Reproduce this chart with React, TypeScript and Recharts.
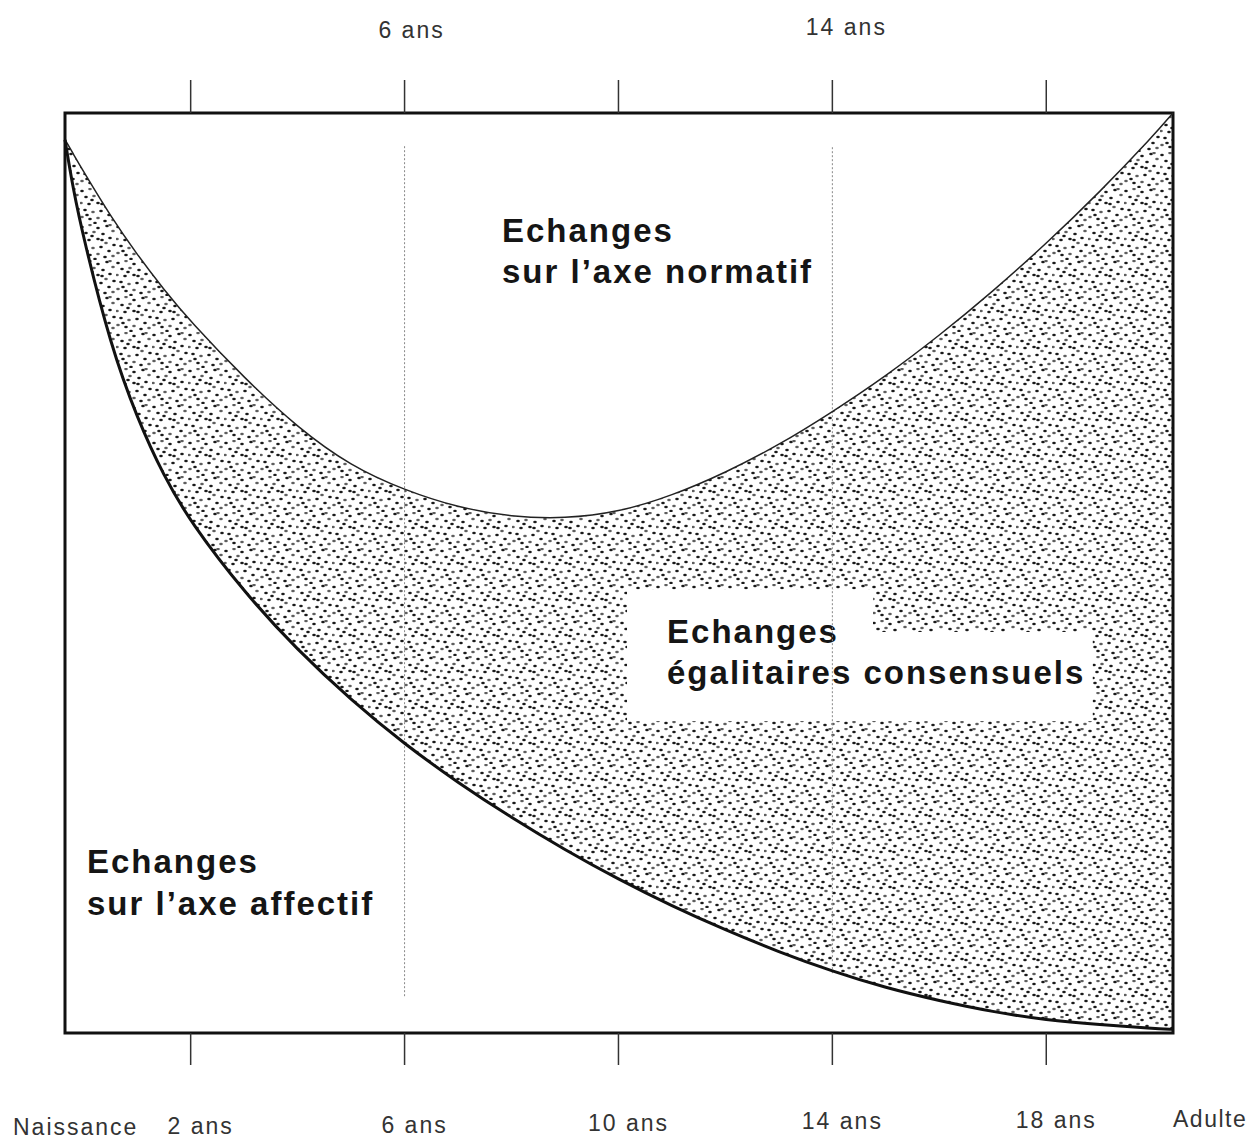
import React from 'react';
import { ComposedChart, Area, Line, XAxis, YAxis, ReferenceArea, ReferenceLine } from 'recharts';

// ages (années) de la naissance à l'âge adulte
const ages = [-0.35, -0.2, 0, 0.5, 1, 1.5, 2, 3, 4, 5, 6, 7, 8, 9, 10, 11, 12, 13, 14, 15, 16, 17, 18, 19, 20, 20.37];
// limite haute : axe normatif
const normatif = [97.1, 95.6, 93.6, 88.8, 84.6, 80.8, 77.3, 71.2, 65.8, 61.6, 59.0, 57.1, 56.1, 55.9, 56.6, 58.4, 60.9, 63.9, 67.5, 71.4, 75.8, 80.6, 85.8, 91.4, 97.5, 100];
// limite basse : axe affectif
const affectif = [97.1, 91.8, 86.3, 74.8, 66.8, 60.5, 55.5, 47.9, 41.6, 36.2, 31.4, 27.2, 23.4, 19.9, 16.7, 13.8, 11.2, 8.8, 6.7, 4.9, 3.5, 2.3, 1.4, 0.9, 0.5, 0.4];

const ageTicks = [2, 6, 10, 14, 18];
const tickLabels: Record<number, string> = { 2: '2 ans', 6: '6 ans', 10: '10 ans', 14: '14 ans', 18: '18 ans' };
const topLabels: Record<number, string> = { 6: '6 ans', 14: '14 ans' };
const X_MIN = -0.35;
const X_MAX = 20.37;

const data = ages.map((a, i) => ({ age: a, haut: normatif[i], bas: affectif[i] }));

// points du pointillé (motif)
const dots = [
  [2, 3, 1], [10, 1, 0], [18, 4, 1], [27, 2, 1], [33, 7, 0], [6, 9, 1], [14, 8, 0], [23, 10, 1],
  [30, 14, 1], [1, 15, 0], [9, 16, 1], [18, 15, 1], [26, 19, 0], [34, 21, 1], [5, 22, 1], [13, 24, 0],
  [21, 23, 1], [29, 27, 1], [2, 29, 0], [10, 31, 1], [18, 30, 0], [25, 33, 1], [33, 32, 0], [15, 35, 1],
  [22, 16, 1], [7, 27, 1], [30, 1, 0], [12, 12, 1],
];

const font = '"Liberation Sans", Arial, sans-serif';

const BottomTick = (props: any) => {
  const { x, y, payload } = props;
  const v = payload.value;
  const off = 102 - ((x - 57) / 1108) * 8;
  if (v === X_MIN) {
    return <text x={x - 52} y={y + off} fontFamily={font} fontSize={23} letterSpacing={2} fill="#333">Naissance</text>;
  }
  if (v === X_MAX) {
    return <text x={x} y={y + 94} fontFamily={font} fontSize={23} letterSpacing={1.5} fill="#333">Adulte</text>;
  }
  return (
    <g>
      <line x1={x} x2={x} y1={y} y2={y + 32} stroke="#333" strokeWidth={1.5} />
      <text x={x + 10} y={y + off} textAnchor="middle" fontFamily={font} fontSize={23} letterSpacing={2} fill="#333">
        {tickLabels[v]}
      </text>
    </g>
  );
};

const TopTick = (props: any) => {
  const { x, y, payload } = props;
  const v = payload.value;
  return (
    <g>
      <line x1={x} x2={x} y1={y} y2={y - 33} stroke="#333" strokeWidth={1.5} />
      {topLabels[v] && (
        <text x={x + (v === 6 ? 7 : 14)} y={y - (v === 6 ? 75 : 78)} textAnchor="middle" fontFamily={font} fontSize={23} letterSpacing={2} fill="#333">
          {topLabels[v]}
        </text>
      )}
    </g>
  );
};

const bold = { fontFamily: font, fontSize: 33, fontWeight: 700, letterSpacing: 2, fill: '#151515' } as const;

const MiddleLabel = (props: any) => {
  const vb = props.viewBox || {};
  return (
    <g>
      <text x={vb.x + 40} y={vb.y + 11} {...bold}>Echanges</text>
      <text x={vb.x + 40} y={vb.y + 52} {...bold}>égalitaires consensuels</text>
    </g>
  );
};

export default function App() {
  return (
    <ComposedChart width={1246} height={1131} data={data} margin={{ top: 0, right: 81, bottom: 0, left: 57 }}>
      <defs>
        <pattern id="stipple" width="36" height="36" patternUnits="userSpaceOnUse">
          <rect width="36" height="36" fill="#fff" />
          {dots.map(([cx, cy, d], i) => (
            <ellipse key={i} cx={cx} cy={cy} rx={1.8} ry={1.2} fill={d ? '#1a1a1a' : '#5e5e5e'} />
          ))}
        </pattern>
      </defs>
      <XAxis
        dataKey="age"
        type="number"
        domain={[X_MIN, X_MAX]}
        ticks={[X_MIN, ...ageTicks, X_MAX]}
        height={106}
        tickSize={0}
        tickMargin={0}
        tick={<BottomTick />}
        axisLine={false}
        interval={0}
      />
      <XAxis
        xAxisId="top"
        orientation="top"
        dataKey="age"
        type="number"
        domain={[X_MIN, X_MAX]}
        ticks={ageTicks}
        height={105}
        tickSize={0}
        tickMargin={0}
        tick={<TopTick />}
        axisLine={false}
        interval={0}
      />
      <YAxis hide domain={[0, 100]} type="number" />
      <Area
        type="basis"
        dataKey={(d: any) => [d.bas, d.haut]}
        stroke="none"
        fill="url(#stipple)"
        fillOpacity={1}
        isAnimationActive={false}
      />
      <ReferenceArea x1={10.16} x2={14.76} y1={43.5} y2={48.2} fill="#fff" fillOpacity={1} stroke="none" />
      <ReferenceArea
        x1={10.16}
        x2={18.87}
        y1={33.9}
        y2={43.6}
        fill="#fff"
        fillOpacity={1}
        stroke="none"
        label={(p: any) => <MiddleLabel {...p} />}
      />
      <ReferenceLine segment={[{ x: 6, y: 4 }, { x: 6, y: 96.5 }]} stroke="#888" strokeDasharray="2 2" />
      <ReferenceLine segment={[{ x: 14, y: 6.5 }, { x: 14, y: 96.5 }]} stroke="#888" strokeDasharray="2 2" />
      <Line type="basis" dataKey="haut" stroke="#222" strokeWidth={1.5} dot={false} isAnimationActive={false} />
      <Line type="basis" dataKey="bas" stroke="#111" strokeWidth={3} dot={false} isAnimationActive={false} />
      <ReferenceArea x1={X_MIN} x2={X_MAX} y1={0} y2={100} fill="none" stroke="#111" strokeWidth={3} />
      <text x={494} y={234} {...bold}>Echanges</text>
      <text x={494} y={275} {...bold}>sur l’axe normatif</text>
      <text x={79} y={865} {...bold}>Echanges</text>
      <text x={79} y={907} {...bold}>sur l’axe affectif</text>
    </ComposedChart>
  );
}
